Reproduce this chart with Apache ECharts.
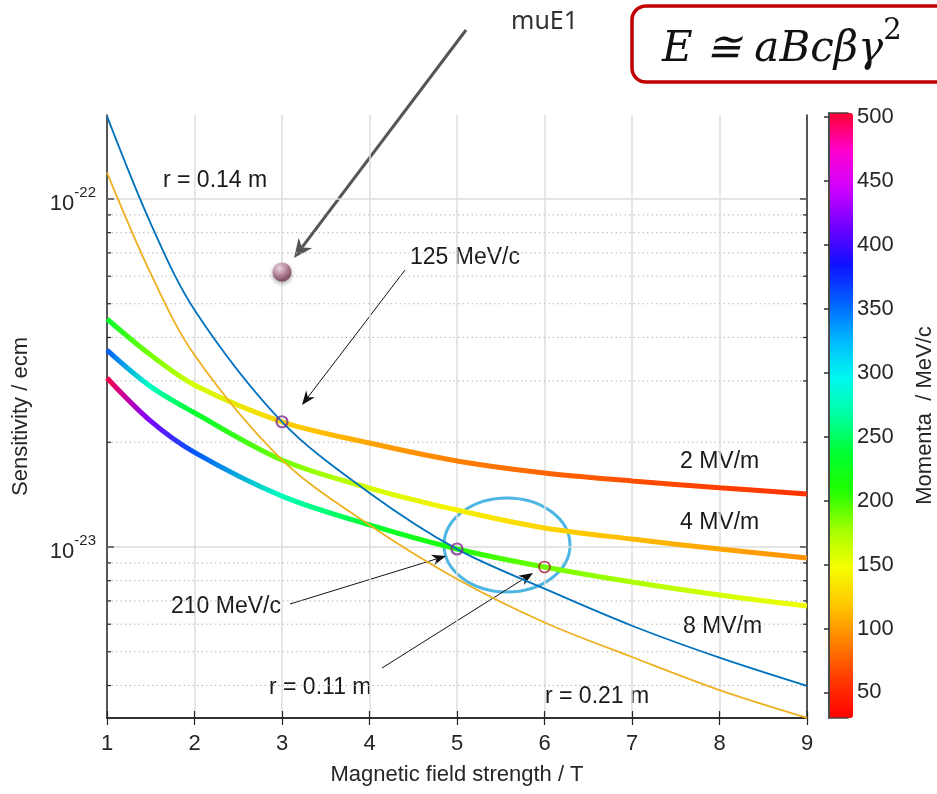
<!DOCTYPE html>
<html>
<head>
<meta charset="utf-8">
<script src="https://cdn.jsdelivr.net/npm/echarts@6/dist/echarts.min.js"></script>
<style>
html, body { margin: 0; padding: 0; background: #fff; }
#main { width: 937px; height: 794px; }
</style>
</head>
<body>
<div id="main"></div>
<script>
// magnetic field (T) where the curves were read
var fieldB = [1, 1.5, 2, 3, 4, 5, 6, 7, 8, 9];
// thin curves, constant radius
var sensR014 = [1.73e-22, 8.5e-23, 4.80e-23, 2.29e-23, 1.43e-23, 9.86e-24, 7.59e-24, 5.94e-24, 4.81e-24, 3.99e-24];
var sensR021 = [1.19e-22, 6.1e-23, 3.56e-23, 1.78e-23, 1.157e-23, 8.09e-24, 6.07e-24, 4.83e-24, 3.88e-24, 3.23e-24];
// thick curves, constant E field
var sens2MV = [4.52e-23, 3.56e-23, 2.92e-23, 2.29e-23, 1.99e-23, 1.767e-23, 1.632e-23, 1.548e-23, 1.48e-23, 1.42e-23];
var sens4MV = [3.68e-23, 2.89e-23, 2.43e-23, 1.778e-23, 1.477e-23, 1.277e-23, 1.134e-23, 1.054e-23, 9.87e-24, 9.3e-24];
var sens8MV = [3.06e-23, 2.30e-23, 1.87e-23, 1.40e-23, 1.157e-23, 9.87e-24, 8.76e-24, 7.93e-24, 7.28e-24, 6.77e-24];
// momentum along each thick curve (MeV/c), gives the colour
var mom2MV = [237, 189, 160, 125, 104, 89, 78, 69, 62, 57];
var mom4MV = [360, 280, 237, 189, 160, 140, 125, 113, 104, 96];
var mom8MV = [500, 420, 360, 277, 237, 209, 189, 173, 160, 149];

var yMajor = [1e-23, 1e-22];
var yMinor = [4e-24, 5e-24, 6e-24, 7e-24, 8e-24, 9e-24, 2e-23, 3e-23, 4e-23, 5e-23, 6e-23, 7e-23, 8e-23, 9e-23];
var momTicks = [50, 100, 150, 200, 250, 300, 350, 400, 450, 500];
var markedPoints = [[3, 2.29e-23], [5, 9.87e-24], [6, 8.76e-24]];
var muE1Point = [[3, 6.17e-23]];

var xMin = 1, xMax = 9;
var yMin = 3.226e-24, yMax = 1.743e-22;
var momMin = 30, momMax = 503;
var momColors = ['#ff0000', '#ff3800', '#ff8000', '#ffc800', '#f4ff00', '#a0ff00', '#20ff00', '#00ff30',
  '#00ffa0', '#00f8f0', '#00b8ff', '#0060ff', '#1010ff', '#7000ff', '#d000ff', '#ff00d0', '#ff0030'];

var FONT = '"Liberation Sans", Arial, sans-serif';
var AX = '#262626';
var SMOOTH = 0.33;

function hexRgb(h) {
  return [parseInt(h.substr(1, 2), 16), parseInt(h.substr(3, 2), 16), parseInt(h.substr(5, 2), 16)];
}
function momColor(p) {
  var t = Math.max(0, Math.min(1, (p - momMin) / (momMax - momMin)));
  var pos = t * (momColors.length - 1);
  var i = Math.min(Math.floor(pos), momColors.length - 2);
  var f = pos - i;
  var a = hexRgb(momColors[i]), b = hexRgb(momColors[i + 1]);
  return 'rgb(' + [0, 1, 2].map(function (k) { return Math.round(a[k] + (b[k] - a[k]) * f); }).join(',') + ')';
}
function momGradient(mom) {
  var stops = fieldB.map(function (x, i) {
    return { offset: (x - xMin) / (xMax - xMin), color: momColor(mom[i]) };
  });
  return new echarts.graphic.LinearGradient(0, 0, 1, 0, stops);
}
function pairs(ys) {
  return fieldB.map(function (x, i) { return [x, ys[i]]; });
}
function thickLine(name, ys, mom) {
  return {
    name: name, type: 'line', data: pairs(ys), smooth: SMOOTH,
    symbol: 'none', z: 3, lineStyle: { width: 5, color: momGradient(mom) }
  };
}
function arrow(x1, y1, x2, y2, color, w, hl, hw) {
  var a = Math.atan2(y2 - y1, x2 - x1), c = Math.cos(a), s = Math.sin(a);
  var bx = x2 - hl * c, by = y2 - hl * s;
  var mx = x2 - hl * 0.7 * c, my = y2 - hl * 0.7 * s;
  return [
    { type: 'line', shape: { x1: x1, y1: y1, x2: mx, y2: my }, style: { stroke: color, lineWidth: w } },
    { type: 'polygon', shape: { points: [[x2, y2], [bx - s * hw / 2, by + c * hw / 2], [mx, my], [bx + s * hw / 2, by - c * hw / 2]] },
      style: { fill: color } }
  ];
}
function label(text, x, y) {
  return { type: 'text', style: { text: text, x: x, y: y, font: '23px ' + FONT, fill: '#1a1a1a', verticalAlign: 'middle' } };
}

var gridData = yMinor.map(function (v) { return [xMin, v, 0]; })
  .concat(yMajor.map(function (v) { return [xMin, v, 1]; }));

var graphics = [
  label('r = 0.14 m', 163, 181),
  label('125 MeV/c', 410, 258),
  label('2 MV/m', 680, 462),
  label('4 MV/m', 680, 523),
  label('8 MV/m', 683, 627),
  label('210 MeV/c', 171, 607),
  label('r = 0.11 m', 269, 688),
  label('r = 0.21 m', 545, 697),
  { type: 'text', style: { text: 'muE1', x: 511, y: 22, font: '25px "Noto Sans", sans-serif', fill: '#333', verticalAlign: 'middle' } },
  { type: 'ellipse', shape: { cx: 507, cy: 545, rx: 63, ry: 47 }, style: { fill: 'none', stroke: '#4db6e2', lineWidth: 3 } },
  { type: 'rect', shape: { x: 632, y: 6, width: 330, height: 76, r: 14 }, style: { fill: '#fff', stroke: '#c00000', lineWidth: 3.5 } },
  { type: 'text', style: {
      text: '{a|E ≅ aBcβγ}{s|2}', x: 662, y: 44, verticalAlign: 'middle',
      rich: {
        a: { font: 'italic 42px "DejaVu Serif", serif', fill: '#111', lineHeight: 54, verticalAlign: 'bottom' },
        s: { font: '29px "DejaVu Serif", serif', fill: '#111', lineHeight: 54, verticalAlign: 'top' }
      } } }
]
  .concat(arrow(466, 30, 294, 258, '#555', 3, 19, 17))
  .concat(arrow(405, 270, 302, 405, '#111', 1, 14, 11))
  .concat(arrow(290, 604, 446, 556, '#111', 1, 14, 11))
  .concat(arrow(382, 668, 533, 573, '#111', 1, 14, 11));

var myChart = echarts.init(document.getElementById('main'));
var option = {
  backgroundColor: '#fff',
  animation: false,
  textStyle: { fontFamily: FONT },
  grid: [
    { left: 107, top: 115, width: 700, height: 603 },
    { left: 829, top: 113, width: 24, height: 605 }
  ],
  visualMap: {
    type: 'continuous', seriesIndex: [], min: momMin, max: momMax,
    left: 829, top: 113, itemWidth: 24, itemHeight: 605, padding: 0,
    calculable: false, text: null, hoverLink: false,
    inRange: { color: momColors }
  },
  xAxis: [
    {
      type: 'value', gridIndex: 0, position: 'bottom', min: xMin, max: xMax, interval: 1,
      name: 'Magnetic field strength / T', nameLocation: 'middle', nameGap: 46,
      nameTextStyle: { fontSize: 22, color: AX },
      axisLine: { lineStyle: { color: AX, width: 1.5 } },
      axisTick: { inside: true, length: 7, lineStyle: { color: AX, width: 1.2 } },
      axisLabel: { fontSize: 22, color: AX, margin: 15 },
      splitLine: { show: true, lineStyle: { color: '#dedede', width: 1.5 } }
    },
    {
      type: 'value', gridIndex: 0, position: 'top', min: xMin, max: xMax, interval: 1,
      axisLine: { lineStyle: { color: AX, width: 1.5 } },
      axisTick: { inside: true, length: 7, lineStyle: { color: AX, width: 1.2 } },
      axisLabel: { show: false }, splitLine: { show: false }
    },
    {
      type: 'value', gridIndex: 1, position: 'bottom', min: 0, max: 1, z: 10,
      axisLine: { lineStyle: { color: '#444', width: 1.5 } },
      axisTick: { show: false }, axisLabel: { show: false }, splitLine: { show: false }
    },
    {
      type: 'value', gridIndex: 1, position: 'top', min: 0, max: 1, z: 10,
      axisLine: { lineStyle: { color: '#444', width: 1.5 } },
      axisTick: { show: false }, axisLabel: { show: false }, splitLine: { show: false }
    }
  ],
  yAxis: [
    {
      type: 'log', logBase: 10, gridIndex: 0, position: 'left', min: yMin, max: yMax,
      name: 'Sensitivity / ecm', nameLocation: 'middle', nameGap: 75, nameRotate: 90,
      nameTextStyle: { fontSize: 22, color: AX },
      axisLine: { show: true, lineStyle: { color: AX, width: 1.5 } },
      axisTick: { show: false }, axisLabel: { show: false },
      splitLine: { show: false }
    },
    {
      type: 'log', logBase: 10, gridIndex: 0, position: 'right', min: yMin, max: yMax,
      axisLine: { show: true, lineStyle: { color: AX, width: 1.5 } },
      axisTick: { show: false }, axisLabel: { show: false }, splitLine: { show: false }
    },
    {
      type: 'value', gridIndex: 1, position: 'right', min: momMin, max: momMax, z: 10,
      name: 'Momenta  / MeV/c', nameLocation: 'middle', nameGap: 66, nameRotate: 90,
      nameTextStyle: { fontSize: 22, color: AX },
      axisLine: { show: true, lineStyle: { color: '#444', width: 1.5 } },
      axisTick: { show: true, inside: true, length: 5, customValues: momTicks, lineStyle: { color: '#333', width: 1.5 } },
      axisLabel: { customValues: momTicks, fontSize: 22, color: AX, margin: 9 },
      splitLine: { show: false }
    },
    {
      type: 'value', gridIndex: 1, position: 'left', min: momMin, max: momMax, z: 10,
      axisLine: { show: true, lineStyle: { color: '#444', width: 1.5 } },
      axisTick: { show: false }, axisLabel: { show: false }, splitLine: { show: false }
    }
  ],
  graphic: graphics,
  series: [
    {
      // horizontal grid lines, ticks and decade labels of the log axis
      type: 'custom', xAxisIndex: 0, yAxisIndex: 0, z: 1, silent: true,
      data: gridData,
      renderItem: function (params, api) {
        var v = api.value(1), major = api.value(2);
        var p0 = api.coord([xMin, v]), p1 = api.coord([xMax, v]);
        var tl = major ? 7 : 4;
        var tick = { stroke: AX, lineWidth: 1.2 };
        var children = [
          { type: 'line', shape: { x1: p0[0], y1: p0[1], x2: p1[0], y2: p1[1] },
            style: major ? { stroke: '#dcdcdc', lineWidth: 1.5 } : { stroke: '#b8b8b8', lineWidth: 1, lineDash: [1.5, 3] } },
          { type: 'line', shape: { x1: p0[0], y1: p0[1], x2: p0[0] + tl, y2: p0[1] }, style: tick },
          { type: 'line', shape: { x1: p1[0] - tl, y1: p1[1], x2: p1[0], y2: p1[1] }, style: tick }
        ];
        if (major) {
          children.push({
            type: 'text',
            style: {
              text: '{b|10}{s|' + Math.round(Math.log10(v)) + '}',
              x: p0[0] - 11, y: p0[1] + 1, align: 'right', verticalAlign: 'middle',
              rich: {
                b: { fontSize: 22, fill: AX, fontFamily: FONT, lineHeight: 30, verticalAlign: 'bottom' },
                s: { fontSize: 15, fill: AX, fontFamily: FONT, lineHeight: 30, verticalAlign: 'top' }
              }
            }
          });
        }
        return { type: 'group', children: children };
      }
    },
    thickLine('2 MV/m', sens2MV, mom2MV),
    thickLine('4 MV/m', sens4MV, mom4MV),
    thickLine('8 MV/m', sens8MV, mom8MV),
    {
      name: 'r = 0.14 m', type: 'line', data: pairs(sensR014), smooth: SMOOTH,
      symbol: 'none', z: 4, lineStyle: { width: 1.8, color: '#0072BD' }
    },
    {
      name: 'r = 0.21 m', type: 'line', data: pairs(sensR021), smooth: SMOOTH,
      symbol: 'none', z: 4, lineStyle: { width: 1.8, color: '#EDB120' }
    },
    {
      type: 'scatter', z: 5, symbol: 'circle', symbolSize: 11,
      data: markedPoints.map(function (p, i) {
        return { value: p, itemStyle: { color: 'transparent', borderWidth: i < 2 ? 2.2 : 1.6, borderColor: i < 2 ? '#7E2F8E' : '#A2142F' } };
      })
    },
    {
      type: 'scatter', z: 5, symbol: 'circle', symbolSize: 19, data: muE1Point,
      itemStyle: {
        color: new echarts.graphic.RadialGradient(0.38, 0.32, 0.7, [
          { offset: 0, color: '#f8e4ee' }, { offset: 0.45, color: '#c48aa2' }, { offset: 1, color: '#6a2e4a' }
        ]),
        shadowBlur: 4, shadowColor: 'rgba(0,0,0,0.45)', shadowOffsetY: 2
      }
    }
  ]
};
myChart.setOption(option);
</script>
</body>
</html>
